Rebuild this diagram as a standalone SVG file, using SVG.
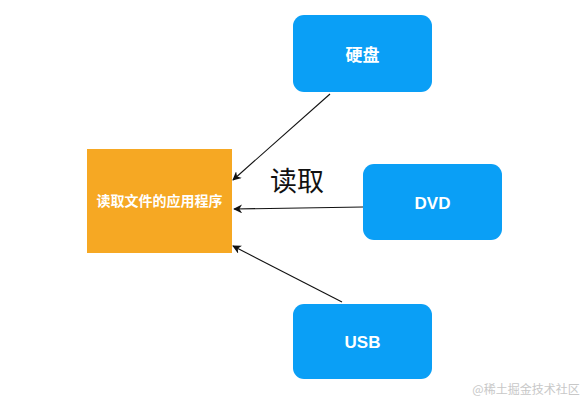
<svg xmlns="http://www.w3.org/2000/svg" width="588" height="402" viewBox="0 0 588 402">
<style>
.blue{fill:#0a9ff6}
.lbl{fill:#fff;font-family:"Liberation Sans","Noto Sans CJK SC",sans-serif;font-weight:bold;font-size:17px;text-anchor:middle}
.app{fill:#fff;font-family:"Noto Sans CJK SC",sans-serif;font-weight:bold;font-size:14px;text-anchor:middle}
.edge{stroke:#111;stroke-width:1.1;fill:none;marker-end:url(#ah)}
</style>
<defs>
<marker id="ah" viewBox="0 0 10 10" refX="9" refY="5" markerWidth="9" markerHeight="9" markerUnits="userSpaceOnUse" orient="auto">
<path d="M0,0 L10,5 L0,10 L3,5 Z" fill="#111"/>
</marker>
</defs>
<rect width="588" height="402" fill="#fff"/>
<g id="app">
<rect x="87" y="149" width="145" height="104" fill="#f6a823"/>
<text class="app" x="159.5" y="206">读取文件的应用程序</text>
</g>
<g id="hdd">
<rect class="blue" x="293" y="15" width="139" height="77" rx="11"/>
<text class="lbl" x="362.5" y="61" font-family="Noto Sans CJK SC,sans-serif" font-size="18">硬盘</text>
</g>
<g id="dvd">
<rect class="blue" x="363" y="164" width="139" height="76" rx="11"/>
<text class="lbl" x="432.5" y="209">DVD</text>
</g>
<g id="usb">
<rect class="blue" x="293" y="304" width="139" height="75" rx="11"/>
<text class="lbl" x="362.5" y="348">USB</text>
</g>
<g id="connectors">
<line class="edge" x1="330" y1="94" x2="233" y2="180"/>
<line class="edge" x1="363" y1="207" x2="234" y2="209"/>
<line class="edge" x1="342" y1="302" x2="233" y2="246"/>
</g>
<text x="297" y="191" font-family="Noto Sans CJK SC,sans-serif" font-size="27" text-anchor="middle" fill="#111">读取</text>
<text x="526" y="394" font-family="Noto Sans CJK SC,sans-serif" font-size="12" text-anchor="middle" fill="#c8c8c8">@稀土掘金技术社区</text>
</svg>
